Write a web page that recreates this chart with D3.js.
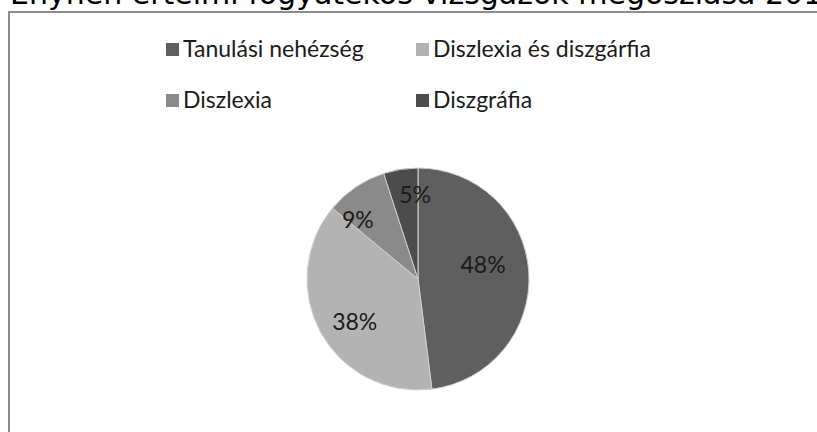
<!DOCTYPE html>
<html lang="hu">
<head>
<meta charset="utf-8">
<title>Pie Chart</title>
<script src="https://cdn.jsdelivr.net/npm/d3@7"></script>
<style>
    body { margin: 0; background-color: white; overflow: hidden; }
    svg { display: block; }
</style>
</head>
<body>
<div id="chart_div"></div>
<script>
"use strict";
var categories = ["Tanulási nehézség", "Diszlexia és diszgárfia", "Diszlexia", "Diszgráfia"];
var values = [48, 38, 9, 5];
var labels = ["48%", "38%", "9%", "5%"];
var colors = ["#5f5f5f", "#b3b3b3", "#8a8a8a", "#4c4c4c"];
var title_text = "Enyhén értelmi fogyatékos vizsgázók megoszlása 2013";

var svg_width = 817;
var svg_height = 432;

var svg = d3.select("#chart_div")
    .append("svg")
    .attr("width", svg_width)
    .attr("height", svg_height);

// chart frame, runs off the right and bottom edges
svg.append("rect")
    .attr("x", 9)
    .attr("y", 12)
    .attr("width", 900)
    .attr("height", 500)
    .attr("fill", "white")
    .attr("stroke", "#8c8c8c")
    .attr("stroke-width", 2);

// title, clipped at the top of the picture like in the source
svg.append("text")
    .attr("x", 10)
    .attr("y", 4)
    .attr("font-family", "DejaVu Sans")
    .attr("font-size", 30)
    .attr("fill", "#000")
    .text(title_text);

// legend
var legend_x = d3.scalePoint().domain([0, 1]).range([166, 416]);
var legend_y = d3.scalePoint().domain([0, 1]).range([49, 100]);
var legend = svg.selectAll(".legend")
    .data(categories)
    .enter()
    .append("g")
    .attr("class", "legend")
    .attr("transform", function(d, i) {
        return "translate(" + legend_x(i % 2) + "," + legend_y(Math.floor(i / 2)) + ")";
    });
legend.append("rect")
    .attr("x", 0)
    .attr("y", -6)
    .attr("width", 13)
    .attr("height", 13)
    .attr("fill", function(d, i) { return colors[i]; });
legend.append("text")
    .attr("x", 17)
    .attr("y", 0)
    .attr("dy", "0.35em")
    .attr("font-family", "Lato")
    .attr("font-size", 23)
    .attr("fill", "#1a1a1a")
    .text(function(d) { return d; });

// pie
var cx = 418, cy = 279, radius = 111;
var pie = d3.pie().sort(null).value(function(d) { return d; });
var arcs = pie(values);
var arc = d3.arc().innerRadius(0).outerRadius(radius);
var g = svg.append("g").attr("transform", "translate(" + cx + "," + cy + ")");
g.selectAll("path")
    .data(arcs)
    .enter()
    .append("path")
    .attr("d", arc)
    .attr("fill", function(d, i) { return colors[i]; })
    .attr("stroke", "#d0d0d0")
    .attr("stroke-width", 1);

// label placement: radius factor and angle nudge (degrees) per slice
var label_r = [0.60, 0.69, 0.76, 0.76];
var label_turn = [-8.6, -5.5, -11.3, 7];
g.selectAll(".pct")
    .data(arcs)
    .enter()
    .append("text")
    .attr("class", "pct")
    .attr("transform", function(d, i) {
        var a = (d.startAngle + d.endAngle) / 2 + label_turn[i] * Math.PI / 180;
        var r = radius * label_r[i];
        return "translate(" + (Math.sin(a) * r) + "," + (-Math.cos(a) * r) + ")";
    })
    .attr("text-anchor", "middle")
    .attr("dy", "0.35em")
    .attr("font-family", "Lato")
    .attr("font-size", 23)
    .attr("fill", "#1a1a1a")
    .text(function(d, i) { return labels[i]; });
</script>
</body>
</html>
